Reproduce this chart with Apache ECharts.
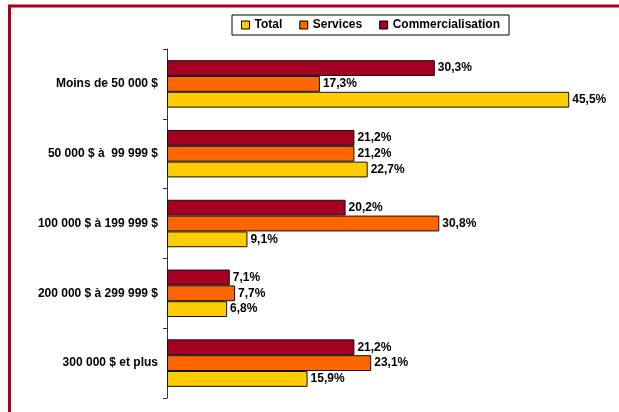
<!DOCTYPE html>
<html>
<head>
<meta charset="utf-8">
<script src="https://cdn.jsdelivr.net/npm/echarts@6/dist/echarts.min.js"></script>
<style>
    html, body { margin: 0; padding: 0; background: #fff; }
    #chart { width: 619px; height: 412px; }
</style>
</head>
<body>
<div id="chart"></div>
<script>
// categories, top to bottom
var categories = ['Moins de 50 000 $', '50 000 $ à  99 999 $', '100 000 $ à 199 999 $', '200 000 $ à 299 999 $', '300 000 $ et plus']
var seriesNames = ['Total', 'Services', 'Commercialisation']
var totalData = [45.5, 22.7, 9.1, 6.8, 15.9]
var servicesData = [17.3, 21.2, 30.8, 7.7, 23.1]
var commercialisationData = [30.3, 21.2, 20.2, 7.1, 21.2]

var colors = ['#ffcc00', '#ff6600', '#a50021']
var fontFamily = '"Liberation Sans", Arial, sans-serif'

function fmt(p) {
    return p.value.toFixed(1).replace('.', ',') + '%'
}

var dataList = [totalData, servicesData, commercialisationData]
var series = []
// bottom-most bar in each group is Total, so push in reverse for the layout
for (var i = dataList.length - 1; i >= 0; i--) {
    series.push({
        name: seriesNames[i],
        type: 'bar',
        barGap: '0%',
        barCategoryGap: '32%',
        itemStyle: {
            color: colors[i],
            borderColor: '#111',
            borderWidth: 1
        },
        label: {
            show: true,
            position: 'right',
            distance: 3,
            formatter: fmt,
            color: '#000',
            fontSize: 12,
            fontWeight: 'bold',
            fontFamily: fontFamily
        },
        data: dataList[i]
    })
}

var myChart = echarts.init(document.getElementById('chart'))
var option = {
    animation: false,
    graphic: [{
        type: 'rect',
        shape: { x: 9.5, y: 6, width: 700, height: 500 },
        style: { fill: 'none', stroke: '#a8001f', lineWidth: 3 },
        silent: true
    }],
    legend: {
        left: 232,
        top: 15,
        data: seriesNames,
        icon: 'rect',
        itemWidth: 8,
        itemHeight: 8,
        itemGap: 17,
        padding: [4, 9],
        borderColor: '#000',
        borderWidth: 1,
        itemStyle: { borderColor: '#000', borderWidth: 1 },
        textStyle: {
            color: '#000',
            fontSize: 12,
            fontWeight: 'bold',
            fontFamily: fontFamily
        }
    },
    grid: {
        left: 167,
        right: 10,
        top: 49,
        bottom: 14,
        containLabel: false
    },
    xAxis: {
        type: 'value',
        min: 0,
        max: 50,
        show: false
    },
    yAxis: {
        type: 'category',
        inverse: true,
        data: categories,
        axisLine: { lineStyle: { color: '#333', width: 1 } },
        axisTick: { show: true, length: 4, lineStyle: { color: '#333' } },
        axisLabel: {
            margin: 9,
            color: '#000',
            fontSize: 12,
            fontWeight: 'bold',
            fontFamily: fontFamily
        },
        splitLine: { show: false }
    },
    series: series
}
myChart.setOption(option)
</script>
</body>
</html>
